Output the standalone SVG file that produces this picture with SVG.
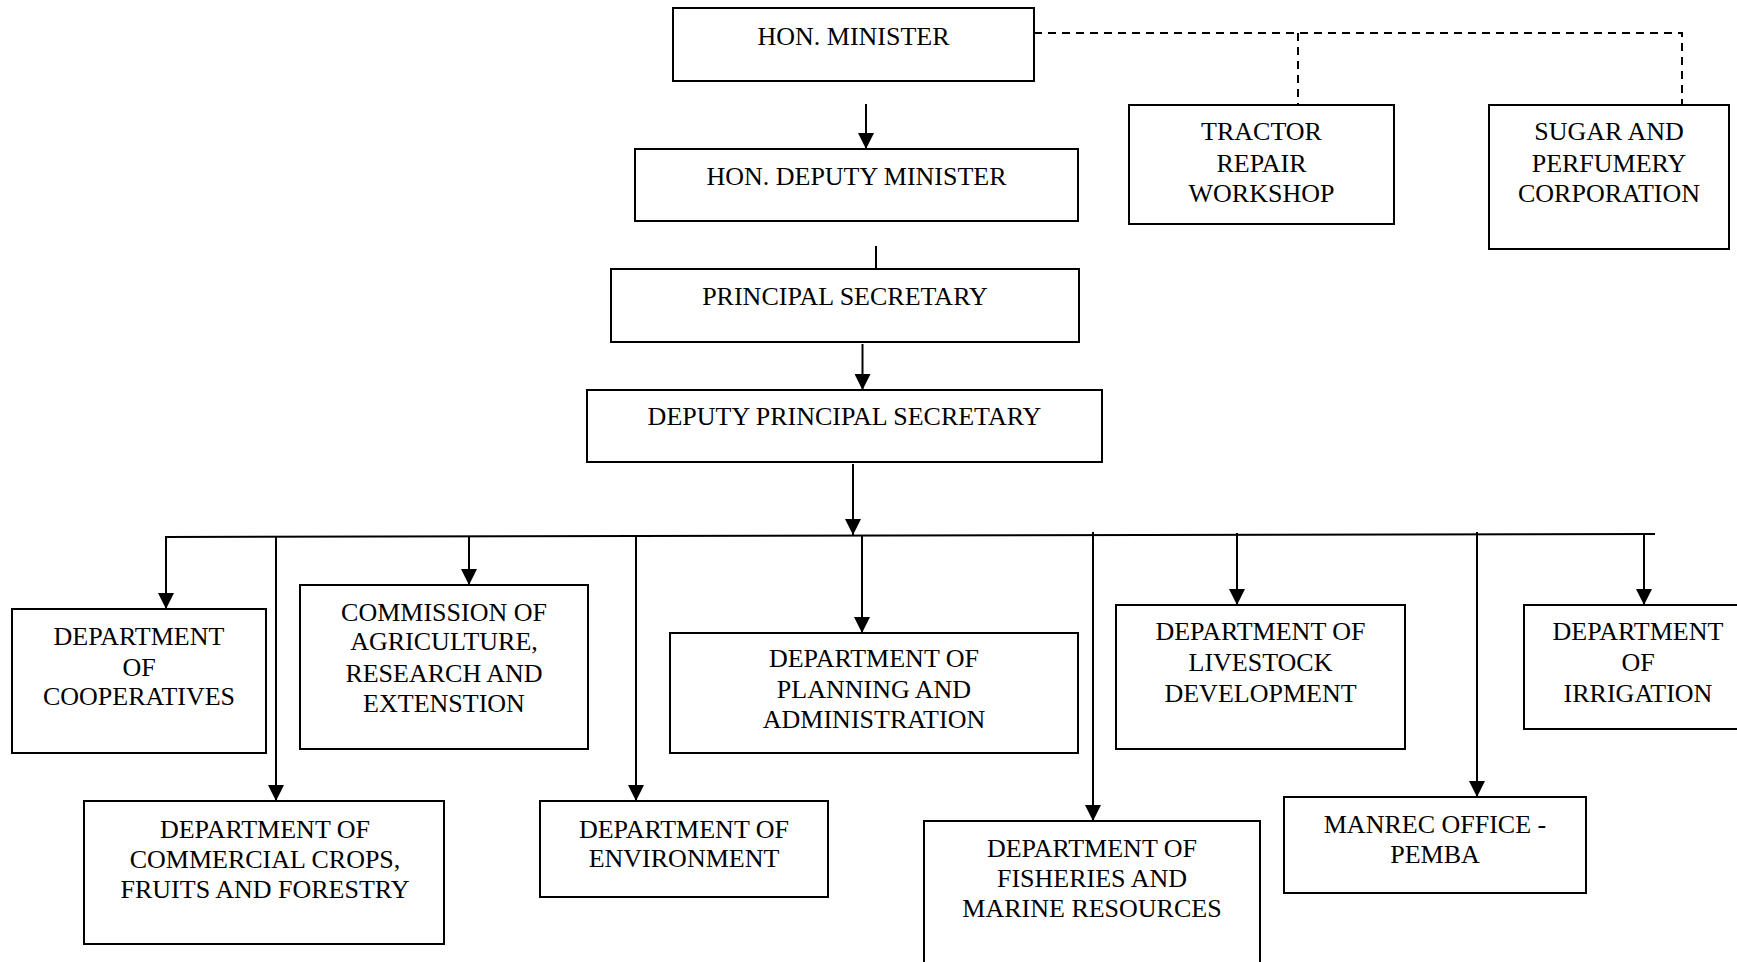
<svg xmlns="http://www.w3.org/2000/svg" width="1737" height="962" viewBox="0 0 1737 962">
<style>
.box{fill:#fff;stroke:#000;stroke-width:2}
.t{font-family:"Liberation Serif","Times New Roman",serif;font-size:26px;fill:#000;text-anchor:middle}
.c{fill:none;stroke:#000;stroke-width:2}
.d{fill:none;stroke:#000;stroke-width:2;stroke-dasharray:8,6}
</style>
<defs>
<marker id="ah" markerUnits="userSpaceOnUse" markerWidth="16" markerHeight="16" viewBox="0 0 16 16" refX="16" refY="8" orient="auto">
<path d="M0,0 L16,8 L0,16 Z" fill="#000"/>
</marker>
</defs>
<rect width="1737" height="962" fill="#fff"/>
<g id="connectors">
<path class="d" d="M1034,33 H1682 V105"/>
<path class="d" d="M1298,33 V105"/>
<line class="c" x1="866" y1="104" x2="866" y2="149" marker-end="url(#ah)"/>
<line class="c" x1="876" y1="246" x2="876" y2="270"/>
<line class="c" x1="862.5" y1="344" x2="862.5" y2="390" marker-end="url(#ah)"/>
<line class="c" x1="853" y1="464" x2="853" y2="535" marker-end="url(#ah)"/>
<line class="c" x1="165" y1="537" x2="1655" y2="534"/>
<line class="c" x1="166" y1="537" x2="166" y2="609" marker-end="url(#ah)"/>
<line class="c" x1="276" y1="537" x2="276" y2="801" marker-end="url(#ah)"/>
<line class="c" x1="469" y1="536" x2="469" y2="585" marker-end="url(#ah)"/>
<line class="c" x1="636" y1="536" x2="636" y2="801" marker-end="url(#ah)"/>
<line class="c" x1="862" y1="536" x2="862" y2="633" marker-end="url(#ah)"/>
<line class="c" x1="1093" y1="532" x2="1093" y2="821" marker-end="url(#ah)"/>
<line class="c" x1="1237" y1="533" x2="1237" y2="605" marker-end="url(#ah)"/>
<line class="c" x1="1477" y1="532" x2="1477" y2="797" marker-end="url(#ah)"/>
<line class="c" x1="1644" y1="533" x2="1644" y2="605" marker-end="url(#ah)"/>
</g>
<g id="n-minister"><rect class="box" x="673" y="8" width="361" height="73"/><text class="t" x="853.5" y="45">HON. MINISTER</text></g>
<g id="n-deputy-minister"><rect class="box" x="635" y="149" width="443" height="72"/><text class="t" x="856.5" y="185">HON. DEPUTY MINISTER</text></g>
<g id="n-tractor"><rect class="box" x="1129" y="105" width="265" height="119"/><text class="t" x="1261.5" y="140">TRACTOR</text><text class="t" x="1261.5" y="172">REPAIR</text><text class="t" x="1261.5" y="202">WORKSHOP</text></g>
<g id="n-sugar"><rect class="box" x="1489" y="105" width="240" height="144"/><text class="t" x="1609" y="140">SUGAR AND</text><text class="t" x="1609" y="172">PERFUMERY</text><text class="t" x="1609" y="202">CORPORATION</text></g>
<g id="n-ps"><rect class="box" x="611" y="269" width="468" height="73"/><text class="t" x="845" y="305">PRINCIPAL SECRETARY</text></g>
<g id="n-dps"><rect class="box" x="587" y="390" width="515" height="72"/><text class="t" x="844.5" y="425">DEPUTY PRINCIPAL SECRETARY</text></g>
<g id="n-coop"><rect class="box" x="12" y="609" width="254" height="144"/><text class="t" x="139" y="645">DEPARTMENT</text><text class="t" x="139" y="676">OF</text><text class="t" x="139" y="705">COOPERATIVES</text></g>
<g id="n-commission"><rect class="box" x="300" y="585" width="288" height="164"/><text class="t" x="444" y="621">COMMISSION OF</text><text class="t" x="444" y="650">AGRICULTURE,</text><text class="t" x="444" y="682">RESEARCH AND</text><text class="t" x="444" y="712">EXTENSTION</text></g>
<g id="n-planning"><rect class="box" x="670" y="633" width="408" height="120"/><text class="t" x="874" y="667">DEPARTMENT OF</text><text class="t" x="874" y="698">PLANNING AND</text><text class="t" x="874" y="728">ADMINISTRATION</text></g>
<g id="n-livestock"><rect class="box" x="1116" y="605" width="289" height="144"/><text class="t" x="1260.5" y="640">DEPARTMENT OF</text><text class="t" x="1260.5" y="671">LIVESTOCK</text><text class="t" x="1260.5" y="702">DEVELOPMENT</text></g>
<g id="n-irrigation"><rect class="box" x="1524" y="605" width="228" height="124"/><text class="t" x="1638" y="640">DEPARTMENT</text><text class="t" x="1638" y="671">OF</text><text class="t" x="1638" y="702">IRRIGATION</text></g>
<g id="n-commercial"><rect class="box" x="84" y="801" width="360" height="143"/><text class="t" x="265" y="838">DEPARTMENT OF</text><text class="t" x="265" y="868">COMMERCIAL CROPS,</text><text class="t" x="265" y="898">FRUITS AND FORESTRY</text></g>
<g id="n-environment"><rect class="box" x="540" y="801" width="288" height="96"/><text class="t" x="684" y="838">DEPARTMENT OF</text><text class="t" x="684" y="867">ENVIRONMENT</text></g>
<g id="n-fisheries"><rect class="box" x="924" y="821" width="336" height="150"/><text class="t" x="1092" y="857">DEPARTMENT OF</text><text class="t" x="1092" y="887">FISHERIES AND</text><text class="t" x="1092" y="917">MARINE RESOURCES</text></g>
<g id="n-pemba"><rect class="box" x="1284" y="797" width="302" height="96"/><text class="t" x="1435" y="833">MANREC OFFICE -</text><text class="t" x="1435" y="863">PEMBA</text></g>
</svg>
